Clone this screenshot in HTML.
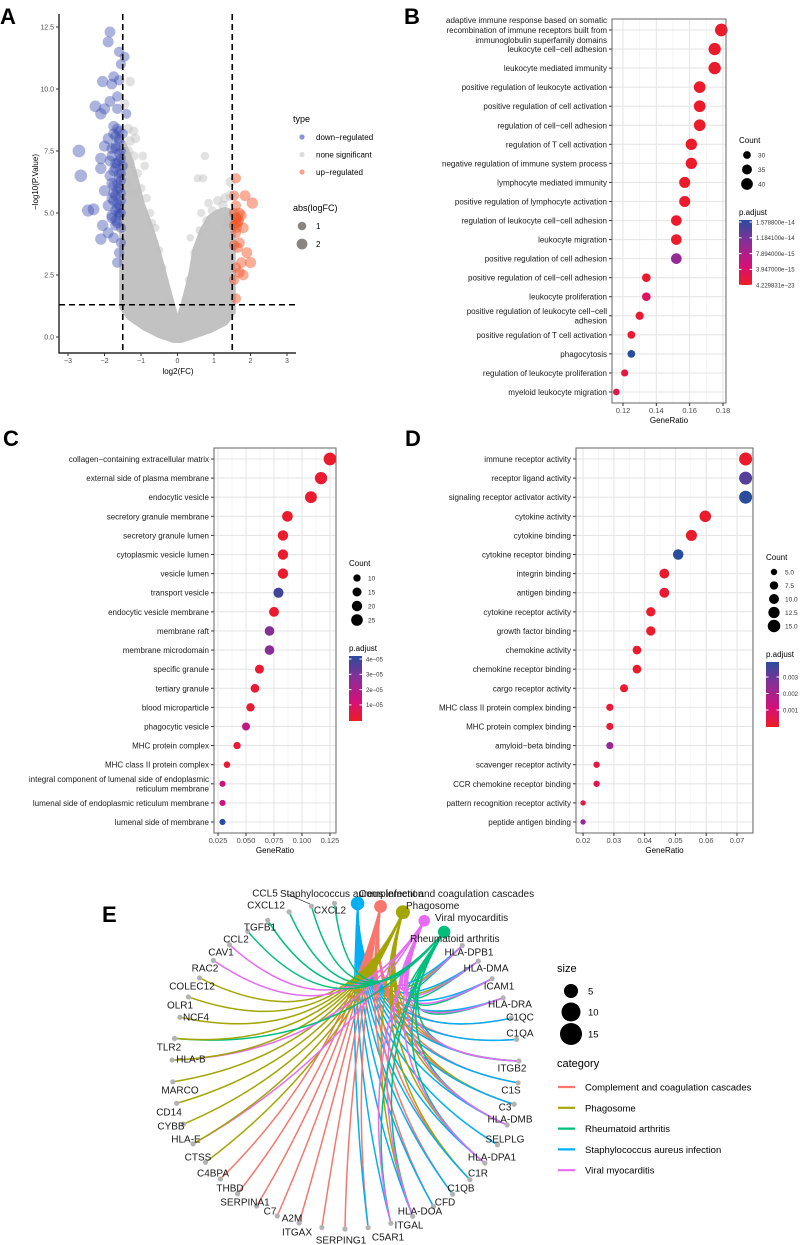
<!DOCTYPE html>
<html><head><meta charset="utf-8"><style>
html,body{margin:0;padding:0;background:#fff;}
svg{display:block;font-family:"Liberation Sans",Arial,sans-serif;}
</style></head><body>
<svg id="fig" width="800" height="1245" viewBox="0 0 800 1245" xmlns="http://www.w3.org/2000/svg">
<rect width="800" height="1245" fill="#fff"/>
<text x="0" y="24" font-size="22" font-weight="bold">A</text>
<text x="404" y="24" font-size="22" font-weight="bold">B</text>
<text x="3" y="446" font-size="22" font-weight="bold">C</text>
<text x="405" y="446" font-size="22" font-weight="bold">D</text>
<text x="102" y="922" font-size="22" font-weight="bold">E</text>
<g id="A"></g>
<g id="B"></g>
<g id="C"></g>
<g id="D"></g>
<g id="E"></g>
</svg>
<script>
// ---------- Volcano data ----------
const downFC=[-1.85,-1.9,-1.6,-1.55,-1.45,-1.75,-2.05,-1.8,-1.6,-1.65,-1.85,-2.25,-2.0,-2.1,-1.65,-1.4,-1.75,-1.6,-1.9,-1.5,-2.0,-2.7,-1.8,-1.6,-2.1,-1.7,-1.5,-2.1,-1.85,-2.65,-1.6,-1.75,-2.0,-1.55,-1.8,-1.65,-2.3,-2.45,-1.9,-1.7,-1.55,-1.8,-2.05,-1.65,-1.9,-2.1,-1.75,-1.55,-1.6,-1.65,-1.7,-1.6,-1.7,-1.55,-1.75,-1.6,-1.55,-1.85,-1.7,-1.6,-1.8,-1.65,-1.75,-1.6,-1.7,-1.55,-1.8,-1.65,-1.6,-1.7,-1.55,-1.65,-1.75,-1.6,-1.7,-1.55,-1.65,-1.8,-1.6,-1.7,-1.55,-1.65,-1.75,-1.6];
const downP=[12.3,11.9,11.5,11.0,11.3,10.5,10.3,10.2,10.35,9.7,9.5,9.3,9.2,9.0,9.2,9.0,8.5,8.3,8.0,8.2,7.7,7.5,7.6,7.4,7.2,7.0,6.9,6.8,6.5,6.5,6.4,6.1,5.9,5.8,5.6,5.4,5.15,5.1,5.3,5.1,5.0,4.8,4.5,4.6,4.2,3.95,4.0,3.8,3.4,3.0,6.8,7.9,8.1,7.2,5.8,5.3,4.4,7.1,7.6,6.6,6.2,5.9,5.5,5.0,4.7,6.3,7.3,8.4,8.0,7.7,7.5,7.0,6.7,6.0,5.7,5.5,5.2,4.9,4.9,4.5,6.6,6.2,8.2,7.1];
const upFC=[1.6,1.85,2.05,1.55,1.6,1.7,1.6,1.65,1.55,1.8,1.6,1.7,1.55,1.65,1.9,2.0,1.75,1.7,1.8,1.55,1.6,1.6,1.75,1.62,1.55,1.68,1.6,1.65];
const upP=[6.4,5.7,5.4,5.7,5.3,5.0,4.8,4.6,4.5,4.4,4.2,3.8,3.7,3.6,3.4,3.0,3.0,2.6,2.5,2.3,1.55,2.8,4.9,4.4,5.0,4.7,4.6,4.8];
const nsFC=[-1.3,-1.45,-1.35,-1.2,-1.15,-1.3,-1.35,-0.95,-1.2,-0.9,-1.3,0.75,0.55,0.7,1.45,1.45,0.85,1.25,0.65,-0.75,-0.6,0.35,0.6,-1.1,-1.0,-0.85,-0.7,1.1,1.3,0.95,-0.5,0.45,1.4,-1.4,-1.25,1.35,0.8,-0.4,0.3,-0.2,0.2];
const nsP=[10.3,9.4,8.4,8.3,8.0,7.9,7.5,7.3,7.3,6.9,7.0,7.3,6.4,6.4,6.25,5.7,5.4,5.3,5.0,5.0,4.4,4.0,4.3,6.6,6.0,5.6,4.6,5.5,5.6,5.1,3.5,3.4,4.8,6.2,5.8,4.5,4.7,2.8,2.3,1.4,1.5];
const nsCoreFC=[-1.5,-1.3,-1.15,-1.0,-0.8,-0.6,-0.4,-0.2,-0.05,0.05,0.2,0.4,0.5,0.7,0.9,1.1,1.3,1.5,1.5,1.3,0.9,0.5,0.1,-0.1,-0.5,-0.9,-1.3,-1.5];
const nsCoreP=[7.8,7.1,6.3,5.4,4.6,3.7,2.6,1.5,0.7,0.7,1.4,2.6,3.5,4.3,4.8,5.0,5.1,5.0,1.0,0.6,0.3,0.1,-0.1,-0.1,0.1,0.4,0.8,1.2];
const volXTicks=[-3,-2,-1,0,1,2,3];
const volYTicks=[0,2.5,5,7.5,10,12.5];

// ---------- Dotplot data ----------
const bTerms=["adaptive immune response based on somatic\nrecombination of immune receptors built from\nimmunoglobulin superfamily domains","leukocyte cell−cell adhesion","leukocyte mediated immunity","positive regulation of leukocyte activation","positive regulation of cell activation","regulation of cell−cell adhesion","regulation of T cell activation","negative regulation of immune system process","lymphocyte mediated immunity","positive regulation of lymphocyte activation","regulation of leukocyte cell−cell adhesion","leukocyte migration","positive regulation of cell adhesion","positive regulation of cell−cell adhesion","leukocyte proliferation","positive regulation of leukocyte cell−cell\nadhesion","positive regulation of T cell activation","phagocytosis","regulation of leukocyte proliferation","myeloid leukocyte migration"];
const bRatio=[0.179,0.175,0.175,0.166,0.166,0.166,0.161,0.161,0.157,0.157,0.152,0.152,0.152,0.134,0.134,0.130,0.125,0.125,0.121,0.116];
const bCount=[43,42,42,40,40,40,39,39,38,38,37,37,37,32,32,31,30,30,29,28];
const bPadj=[0.02,0.02,0.02,0.02,0.02,0.02,0.02,0.02,0.02,0.02,0.02,0.02,0.62,0.03,0.2,0.05,0.04,1.0,0.1,0.15];
const bXTicks=[0.12,0.14,0.16,0.18];
const bBarLabels=["1.578800e−14","1.184100e−14","7.894000e−15","3.947000e−15","4.229831e−23"];
const bCountLegend=[30,35,40];

const cTerms=["collagen−containing extracellular matrix","external side of plasma membrane","endocytic vesicle","secretory granule membrane","secretory granule lumen","cytoplasmic vesicle lumen","vesicle lumen","transport vesicle","endocytic vesicle membrane","membrane raft","membrane microdomain","specific granule","tertiary granule","blood microparticle","phagocytic vesicle","MHC protein complex","MHC class II protein complex","integral component of lumenal side of endoplasmic\nreticulum membrane","lumenal side of endoplasmic reticulum membrane","lumenal side of membrane"];
const cRatio=[0.125,0.117,0.108,0.087,0.083,0.083,0.083,0.079,0.075,0.071,0.071,0.062,0.058,0.054,0.050,0.042,0.033,0.029,0.029,0.029];
const cCount=[30,28,26,21,20,20,20,19,18,17,17,15,14,13,12,10,8,7,7,7];
const cPadj=[0.03,0.05,0.04,0.03,0.03,0.03,0.03,0.92,0.05,0.68,0.68,0.04,0.05,0.05,0.4,0.05,0.06,0.35,0.35,1.0];
const cXTicks=[0.025,0.05,0.075,0.1,0.125];
const cBarLabels=["4e−05","3e−05","2e−05","1e−05"];
const cCountLegend=[10,15,20,25];

const dTerms=["immune receptor activity","receptor ligand activity","signaling receptor activator activity","cytokine activity","cytokine binding","cytokine receptor binding","integrin binding","antigen binding","cytokine receptor activity","growth factor binding","chemokine activity","chemokine receptor binding","cargo receptor activity","MHC class II protein complex binding","MHC protein complex binding","amyloid−beta binding","scavenger receptor activity","CCR chemokine receptor binding","pattern recognition receptor activity","peptide antigen binding"];
const dRatio=[0.0728,0.0728,0.0728,0.0597,0.0552,0.0509,0.0464,0.0464,0.042,0.042,0.0375,0.0375,0.0333,0.0287,0.0287,0.0287,0.0244,0.0244,0.02,0.02];
const dCount=[16,16,16,13,12,11,10,10,9,9,8,8,7,6,6,6,5,5,4,4];
const dPadj=[0.02,0.85,1.0,0.03,0.03,1.0,0.03,0.05,0.03,0.03,0.02,0.03,0.04,0.06,0.06,0.6,0.1,0.15,0.1,0.6];
const dXTicks=[0.02,0.03,0.04,0.05,0.06,0.07];
const dBarLabels=["0.003","0.002","0.001"];
const dCountLegend=[5.0,7.5,10.0,12.5,15.0];

// ---------- Network data ----------
const hubs=["Staphylococcus aureus infection","Complement and coagulation cascades","Phagosome","Viral myocarditis","Rheumatoid arthritis"];
const hubColors=["#00B0F6","#F8766D","#A3A500","#E76BF3","#00BF7D"];
const genes=["HLA-DPB1","HLA-DMA","ICAM1","HLA-DRA","C1QC","C1QA","ITGB2","C1S","C3","HLA-DMB","SELPLG","HLA-DPA1","C1R","C1QB","CFD","HLA-DOA","ITGAL","C5AR1","SERPING1","ITGAX","A2M","C7","SERPINA1","THBD","C4BPA","CTSS","HLA-E","CYBB","CD14","MARCO","HLA-B","TLR2","NCF4","OLR1","COLEC12","RAC2","CAV1","CCL2","TGFB1","CXCL12","CCL5","CXCL2"];
const geneHubs=[[2,4,0,3],[2,4,0,3],[4,0,3],[2,4,0,3],[1,0],[1,0],[1,2,4,0,3],[1,0],[1,2,0],[2,4,0,3],[0],[2,4,0,3],[1,2,0],[1,0],[1,0],[2,4,0,3],[4,0,3],[1,0],[1],[1],[1],[1],[1],[1],[1],[2],[3,2],[2],[2],[2],[3,2],[4,2],[2],[2],[2],[3],[3],[4],[4],[4],[4],[4]];

// ---------- helpers ----------
const NS="http://www.w3.org/2000/svg";
function mk(tag,attrs,parent){const e=document.createElementNS(NS,tag);for(const k in attrs)e.setAttribute(k,attrs[k]);parent.appendChild(e);return e;}
function hex2rgb(h){return [parseInt(h.slice(1,3),16),parseInt(h.slice(3,5),16),parseInt(h.slice(5,7),16)];}
const stops=[[0,"#EE1C25"],[0.3,"#D4107A"],[0.65,"#8C2D96"],[1,"#2A4C9E"]];
function padjColor(t){for(let i=1;i<stops.length;i++){if(t<=stops[i][0]){const a=stops[i-1],b=stops[i];const f=(t-a[0])/(b[0]-a[0]);const ca=hex2rgb(a[1]),cb=hex2rgb(b[1]);return "rgb("+ca.map((v,j)=>Math.round(v+(cb[j]-v)*f)).join(",")+")";}}return stops[stops.length-1][1];}

// ---------- Volcano ----------
(function(){
const g=document.getElementById("A");
const X=v=>177.5+v*36.5, Y=v=>337-v*24.8;
const pts=nsCoreFC.map((v,i)=>X(v)+","+Y(nsCoreP[i])).join(" ");
const core=mk("polygon",{points:pts,fill:"#C2C2C2",stroke:"#C2C2C2","stroke-width":7,"stroke-linejoin":"round"},g);


function pt(fc,p,col,op,name){const c=mk("circle",{cx:X(fc),cy:Y(p),r:3.4+1.1*Math.abs(fc),fill:col,"fill-opacity":op},g);

}
nsFC.forEach((v,i)=>pt(v,nsP[i],"#BEBEBE",0.45,'nonsignificant-point'));
downFC.forEach((v,i)=>pt(v,downP[i],"#3A4DB0",0.42,'down-regulated-point'));
upFC.forEach((v,i)=>pt(v,upP[i],"#F0562A",0.48,'up-regulated-point'));
[[-1.5],[1.5]].forEach(v=>{const l=mk("line",{x1:X(v[0]),x2:X(v[0]),y1:14,y2:353,stroke:"#000","stroke-width":1.6,"stroke-dasharray":"6,4"},g);

});
const h=mk("line",{x1:59,x2:296,y1:Y(1.3),y2:Y(1.3),stroke:"#000","stroke-width":1.6,"stroke-dasharray":"6,4"},g);


const ax=mk("path",{d:"M59,14 V353 H296",fill:"none",stroke:"#000","stroke-width":1.2},g);


volYTicks.forEach(v=>{mk("line",{x1:56,x2:59,y1:Y(v),y2:Y(v),stroke:"#333"},g);
const t=mk("text",{x:54,y:Y(v)+2.5,"font-size":7,fill:"#4D4D4D","text-anchor":"end"},g);t.textContent=v.toFixed(1);

});
volXTicks.forEach(v=>{mk("line",{x1:X(v),x2:X(v),y1:353,y2:356,stroke:"#333"},g);
const t=mk("text",{x:X(v),y:363,"font-size":7,fill:"#4D4D4D","text-anchor":"middle"},g);t.textContent=(v<0?"−":"")+Math.abs(v);

});
const xt=mk("text",{x:178,y:374,"font-size":8,"text-anchor":"middle"},g);xt.textContent="log2(FC)";


const yt=mk("text",{x:0,y:0,"font-size":8,"text-anchor":"middle",transform:"translate(38,182) rotate(-90)"},g);yt.textContent="−log10(P.Value)";


const lt=mk("text",{x:293,y:122,"font-size":9},g);lt.textContent="type";


[["down−regulated","#8A94D2"],["none significant","#DCDCDC"],["up−regulated","#F5A58A"]].forEach((e,i)=>{
mk("circle",{cx:302,cy:137+i*17.5,r:2.6,fill:e[1]},g);
const t=mk("text",{x:316,y:140+i*17.5,"font-size":8},g);t.textContent=e[0];

});
const lt2=mk("text",{x:293,y:211,"font-size":9},g);lt2.textContent="abs(logFC)";


[[1,4.3,226],[2,5.4,244]].forEach(e=>{mk("circle",{cx:302,cy:e[2],r:e[1],fill:"#8A8580"},g);
const t=mk("text",{x:316,y:e[2]+3,"font-size":8},g);t.textContent=e[0];

});
})();

// ---------- Dotplot ----------
function dotplot(o){
const g=document.getElementById(o.id);
const X=v=>o.px0+(v-o.d0)*(o.px1-o.px0)/(o.d1-o.d0);
const n=o.terms.length, step=(o.yLast-o.yFirst)/(n-1), Y=i=>o.yFirst+i*step;
const bg=mk("rect",{x:o.px0,y:o.top,width:o.px1-o.px0,height:o.bot-o.top,fill:"#fff"},g);


const minor=[];for(let i=0;i<o.ticks.length-1;i++)minor.push((o.ticks[i]+o.ticks[i+1])/2);
minor.push(o.ticks[0]-(o.ticks[1]-o.ticks[0])/2);minor.push(o.ticks[o.ticks.length-1]+(o.ticks[1]-o.ticks[0])/2);
minor.forEach(v=>{const x=X(v);if(x>o.px0&&x<o.px1)mk("line",{x1:x,x2:x,y1:o.top,y2:o.bot,stroke:"#F2F2F2","stroke-width":0.8},g);});
o.ticks.forEach(v=>mk("line",{x1:X(v),x2:X(v),y1:o.top,y2:o.bot,stroke:"#E6E6E6","stroke-width":1.1},g));
for(let i=0;i<n;i++)mk("line",{x1:o.px0,x2:o.px1,y1:Y(i),y2:Y(i),stroke:"#E6E6E6","stroke-width":1.1},g);
o.terms.forEach((t,i)=>{
const c=mk("circle",{cx:X(o.ratio[i]),cy:Y(i),r:o.rf(o.count[i]),fill:padjColor(o.padj[i])},g);


mk("line",{x1:o.px0-3,x2:o.px0,y1:Y(i),y2:Y(i),stroke:"#333"},g);
const lines=t.split("\n");
const tx=mk("text",{x:o.px0-5,y:0,"font-size":8,"text-anchor":"end",fill:"#1A1A1A"},g);


lines.forEach((ln,j)=>{const s=mk("tspan",{x:o.px0-5,y:Y(i)+3-(lines.length-1)*4.9+j*9.8},tx);s.textContent=ln;});
});
const fr=mk("rect",{x:o.px0,y:o.top,width:o.px1-o.px0,height:o.bot-o.top,fill:"none",stroke:"#666","stroke-width":1},g);


o.ticks.forEach(v=>{mk("line",{x1:X(v),x2:X(v),y1:o.bot,y2:o.bot+3,stroke:"#333"},g);
const t=mk("text",{x:X(v),y:o.bot+10,"font-size":7.5,"text-anchor":"middle",fill:"#4D4D4D"},g);t.textContent=o.fmt(v);

});
const xt=mk("text",{x:(o.px0+o.px1)/2,y:o.bot+20,"font-size":8,"text-anchor":"middle"},g);xt.textContent="GeneRatio";


const L=o.leg;
const ct=mk("text",{x:L.x,y:L.cy,"font-size":8},g);ct.textContent="Count";


o.countLegend.forEach((v,i)=>{const cy=L.cy+12+i*L.cstep;mk("circle",{cx:L.x+8,cy:cy,r:o.rf(v),fill:"#000"},g);
const t=mk("text",{x:L.x+19,y:cy+2.5,"font-size":6.5,fill:"#333"},g);t.textContent=o.cfmt(v);

});
const pt=mk("text",{x:L.x,y:L.py,"font-size":8},g);pt.textContent="p.adjust";


const gid="grad"+o.id;const defs=mk("defs",{},g);const lg=mk("linearGradient",{id:gid,x1:0,y1:0,x2:0,y2:1},defs);
stops.slice().reverse().forEach(s=>mk("stop",{offset:(1-s[0]),"stop-color":s[1]},lg));
const bar=mk("rect",{x:L.x,y:L.py+5,width:13,height:65,fill:"url(#"+gid+")"},g);


o.barLabels.forEach((s,i)=>{const y=L.py+5+L.b0+i*L.bstep;
mk("line",{x1:L.x,x2:L.x+2.5,y1:y,y2:y,stroke:"#fff"},g);mk("line",{x1:L.x+10.5,x2:L.x+13,y1:y,y2:y,stroke:"#fff"},g);
const t=mk("text",{x:L.x+17,y:y+2.3,"font-size":6,fill:"#333"},g);t.textContent=s;

});
}
dotplot({id:"B",terms:bTerms,ratio:bRatio,count:bCount,padj:bPadj,ticks:bXTicks,px0:612,px1:726,d0:0.1134,d1:0.1818,top:19,bot:403,yFirst:30,yLast:392,
rf:c=>Math.sqrt(Math.max(4,1.93*c-43)),fmt:v=>v.toFixed(2),countLegend:bCountLegend,cfmt:v=>String(v),barLabels:bBarLabels,
leg:{x:739,cy:143,cstep:14.5,py:215,b0:2,bstep:15.8}});
dotplot({id:"C",terms:cTerms,ratio:cRatio,count:cCount,padj:cPadj,ticks:cXTicks,px0:214,px1:336,d0:0.0214,d1:0.1304,top:448,bot:833,yFirst:459,yLast:822,
rf:c=>Math.sqrt(1.35*c),fmt:v=>v.toFixed(3),countLegend:cCountLegend,cfmt:v=>String(v),barLabels:cBarLabels,
leg:{x:349,cy:566,cstep:14,py:651,b0:3,bstep:15.3}});
dotplot({id:"D",terms:dTerms,ratio:dRatio,count:dCount,padj:dPadj,ticks:dXTicks,px0:576,px1:753,d0:0.0177,d1:0.0752,top:448,bot:833,yFirst:459,yLast:822,
rf:c=>Math.sqrt(Math.max(4,2.9*c-4.3)),fmt:v=>v.toFixed(2),countLegend:dCountLegend,cfmt:v=>v.toFixed(1),barLabels:dBarLabels,
leg:{x:766,cy:560,cstep:13.5,py:657,b0:15,bstep:16.5}});

// ---------- Network ----------
(function(){
const g=document.getElementById("E");
const cx=345.5,cy=1066,rx=173.5,ry=163,N=hubs.length+genes.length,th0=4,st=360/N;
const pos=i=>{const a=(th0+i*st)*Math.PI/180;return [cx+rx*Math.sin(a),cy-ry*Math.cos(a)];};
const hubCount=hubs.map((h,k)=>geneHubs.filter(m=>m.includes(k)).length);
const eg=mk("g",{fill:"none","stroke-width":1.5},g);


genes.forEach((gn,i)=>{const p=pos(hubs.length+i);
geneHubs[i].forEach(k=>{const h=pos(k);const mx=(h[0]+p[0])/2,my=(h[1]+p[1])/2;const qx=mx+(cx-mx)*0.85,qy=my+(cy-my)*0.85;
const e=mk("path",{d:"M"+h[0]+","+h[1]+" Q"+qx+","+qy+" "+p[0]+","+p[1],stroke:hubColors[k]},eg);

});});
const labelPos={"HLA-DPB1":[469,952],"HLA-DMA":[486,968],"ICAM1":[499,986],"HLA-DRA":[510,1004],"C1QC":[520,1017],"C1QA":[520,1033],"ITGB2":[512,1068],"C1S":[511,1090],"C3":[505,1107],"HLA-DMB":[510,1119],"SELPLG":[505,1139],"HLA-DPA1":[492,1157],"C1R":[478,1173],"C1QB":[461,1188],"CFD":[445,1202],"HLA-DOA":[420,1211],"ITGAL":[409,1225],"C5AR1":[388,1237],"SERPING1":[341,1240],"ITGAX":[297,1232],"A2M":[292,1218],"C7":[270,1211],"SERPINA1":[245,1202],"THBD":[230,1188],"C4BPA":[213,1173],"CTSS":[198,1157],"HLA-E":[186,1139],"CYBB":[171,1126],"CD14":[169,1112],"MARCO":[180,1090],"HLA-B":[191,1059],"TLR2":[169,1047],"NCF4":[196,1017],"OLR1":[180,1005],"COLEC12":[192,986],"RAC2":[205,968],"CAV1":[221,952],"CCL2":[236,939],"TGFB1":[260,927],"CXCL12":[266,905],"CCL5":[265,893],"CXCL2":[330,910]};
genes.forEach((gn,i)=>{const p=pos(hubs.length+i);
const c=mk("circle",{cx:p[0],cy:p[1],r:2.6,fill:"#B3B3B3"},g);


const lp=labelPos[gn];const t=mk("text",{x:lp[0],y:lp[1]+3.5,"font-size":10,"text-anchor":"middle",fill:"#1A1A1A"},g);t.textContent=gn;

});
const l5=mk("line",{x1:287,y1:894,x2:310,y2:904,stroke:"#000","stroke-width":0.6},g);


const hubLabelPos=[[280,897,"start"],[359,897,"start"],[406,909,"start"],[435,921,"start"],[410,942,"start"]];
hubs.forEach((h,k)=>{const p=pos(k);
const c=mk("circle",{cx:p[0],cy:p[1],r:1.6*Math.sqrt(hubCount[k]),fill:hubColors[k]},g);

});
hubs.forEach((h,k)=>{const lp=hubLabelPos[k];const t=mk("text",{x:lp[0],y:lp[1],"font-size":10,"text-anchor":lp[2],fill:"#1A1A1A"},g);t.textContent=h;

});
const st1=mk("text",{x:557,y:972,"font-size":11},g);st1.textContent="size";


[[5,991,7],[10,1012,9.5],[15,1034,11]].forEach(e=>{mk("circle",{cx:571,cy:e[1],r:e[2],fill:"#000"},g);
const t=mk("text",{x:588,y:e[1]+3.5,"font-size":9.5},g);t.textContent=e[0];

});
const st2=mk("text",{x:557,y:1067,"font-size":11},g);st2.textContent="category";


const order=[1,2,4,0,3];
order.forEach((k,i)=>{const y=1087+i*20.8;mk("line",{x1:558,x2:575,y1:y,y2:y,stroke:hubColors[k],"stroke-width":2.2},g);
const t=mk("text",{x:585,y:y+3.5,"font-size":9.5},g);t.textContent=hubs[k];

});
})();
</script>
</body></html>
